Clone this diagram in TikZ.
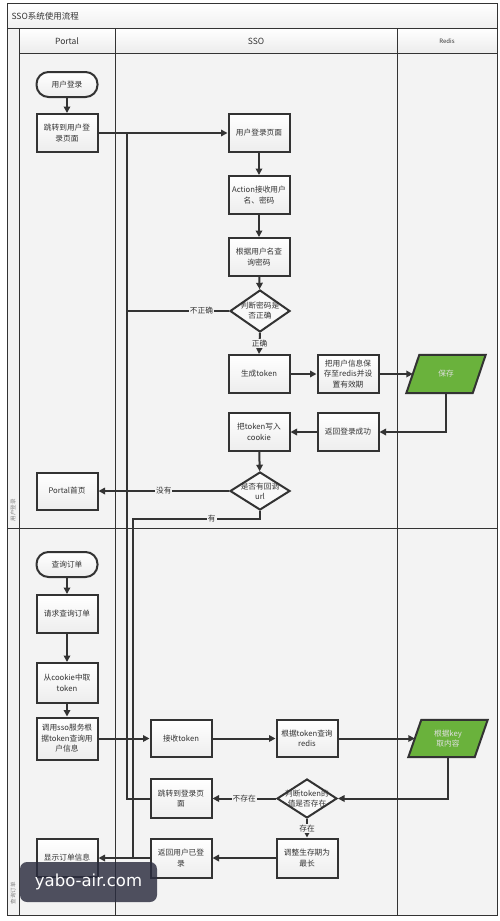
\documentclass[tikz,border=0pt]{standalone}
\usepackage{fontspec}
\setmainfont{Noto Sans CJK SC}
\newfontfamily\wmfont{DejaVu Sans}
\usetikzlibrary{arrows.meta,shapes.geometric,calc}
\definecolor{ln}{HTML}{333333}
\definecolor{grn}{HTML}{6AB23C}
\definecolor{bgc}{HTML}{F3F3F3}
\definecolor{wmc}{HTML}{2A2C3E}
\tikzset{
  box/.style={draw=ln, line width=2pt, top color=white, bottom color=gray!14,
    minimum width=61pt, minimum height=38pt, align=center,
    font=\fontsize{7.7}{10.5}\selectfont, text=ln, inner sep=1pt},
  startn/.style={box, rounded corners=12pt, minimum height=25pt},
  dia/.style={draw=ln, line width=2pt, diamond, fill=gray!5, minimum width=60pt,
    minimum height=42pt, inner sep=0pt},
  dtext/.style={align=center, font=\fontsize{7.7}{10}\selectfont, text=ln, inner sep=0pt},
  pg/.style={minimum width=66pt, minimum height=38pt, inner sep=0pt, align=center,
    font=\fontsize{7.7}{10.5}\selectfont, text=white!88!black},
  arr/.style={draw=ln, line width=2pt, -{Triangle[length=6.5pt,width=6.5pt]}},
  con/.style={draw=ln, line width=2pt},
  lbl/.style={fill=bgc, inner sep=1pt, font=\fontsize{7.7}{9}\selectfont, text=ln},
  frame/.style={draw=ln, line width=0.8pt},
  hdr/.style={font=\fontsize{8.5}{10}\selectfont, text=ln},
  lanelbl/.style={rotate=90, font=\fontsize{5.5}{6}\selectfont, text=gray}
}
\begin{document}
\begin{tikzpicture}[x=1pt,y=-1pt]
\useasboundingbox (0,0) rectangle (500,921);
\fill[white] (0,0) rectangle (500,921);
% frame and background
\fill[bgc] (7,3) rectangle (497,915);
\shade[top color=white,bottom color=gray!12] (7,3) rectangle (497,28);
\shade[top color=white,bottom color=gray!15] (19,28) rectangle (497,53);
\draw[frame] (7,3) rectangle (497,915);
\draw[frame] (7,28) -- (497,28);
\draw[frame] (19,53) -- (497,53);
\draw[frame] (19,28) -- (19,915);
\draw[frame] (115,28) -- (115,915);
\draw[frame] (397,28) -- (397,915);
\draw[frame] (7,528) -- (497,528);
\node[anchor=west, font=\fontsize{8.5}{10}\selectfont, text=ln] (title) at (8,16) {SSO系统使用流程};
\node[hdr] (hP) at (67,41) {Portal};
\node[hdr] (hS) at (256,41) {SSO};
\node[hdr, font=\fontsize{6}{7}\selectfont] (hR) at (447,41) {Redis};
\node[lanelbl] (lane1) at (13,510) {用户登录};
\node[lanelbl] (lane2) at (13,893) {查询订单};

% lane 1 nodes
\node[startn] (s1) at (67,84.5) {用户登录};
\node[box] (j1) at (67,133) {跳转到用户登\\录页面};
\node[box] (lp) at (259,133) {用户登录页面};
\node[box] (ac) at (259,195) {Action接收用户\\名、密码};
\node[box] (qp) at (259,257) {根据用户名查\\询密码};
\node[dia] (d1) at (260,311) {};
\node[dtext] (d1t) at (d1) {判断密码是\\否正确};
\node[box] (gt) at (259,374) {生成token};
\node[box] (sr) at (348,374) {把用户信息保\\存至redis并设\\置有效期};
\node[pg] (sv) at (446,374) {};
\draw[draw=ln, line width=2pt, fill=grn]
  ($(sv.north west)+(6.5,0)$) -- ($(sv.north east)+(6.5,0)$) --
  ($(sv.south east)+(-6.5,0)$) -- ($(sv.south west)+(-6.5,0)$) -- cycle;
\node[pg] (svt) at (sv) {保存};
\node[box] (ro) at (348,432) {返回登录成功};
\node[box] (ck) at (259,432) {把token写入\\cookie};
\node[dia, minimum height=38pt] (d2) at (260,491) {};
\node[dtext] (d2t) at (d2) {是否有回调\\url};
\node[box, minimum height=37pt] (ph) at (67,491) {Portal首页};

% lane 2 nodes
\node[startn] (s2) at (67,564.5) {查询订单};
\node[box] (rq) at (67,614) {请求查询订单};
\node[box, minimum height=40pt] (ct) at (67,683) {从cookie中取\\token};
\node[box, minimum height=42pt] (cs) at (67,738.5) {调用sso服务根\\据token查询用\\户信息};
\node[box, minimum height=37pt] (rt) at (181,738.5) {接收token};
\node[box, minimum height=37pt] (qr) at (307,738.5) {根据token查询\\redis};
\node[pg, minimum height=37pt] (gk) at (448,738.5) {};
\draw[draw=ln, line width=2pt, fill=grn]
  ($(gk.north west)+(6.5,0)$) -- ($(gk.north east)+(6.5,0)$) --
  ($(gk.south east)+(-6.5,0)$) -- ($(gk.south west)+(-6.5,0)$) -- cycle;
\node[pg] (gkt) at (gk) {根据key\\取内容};
\node[dia, minimum height=39pt] (d3) at (307,798.5) {};
\node[dtext] (d3t) at (d3) {判断token的\\值是否存在};
\node[box, minimum height=39pt] (jl) at (181,798.5) {跳转到登录页\\面};
\node[box, minimum height=39pt] (ad) at (307,858) {调整生存期为\\最长};
\node[box, minimum height=39pt] (rl) at (181,858) {返回用户已登\\录};
\node[box, minimum height=38pt] (sh) at (67,858) {显示订单信息};

% helper coordinates
\coordinate (vA) at (127,133);
\coordinate (vB) at (133,519);

% lane 1 connectors
\draw[arr] (s1) -- (j1);
\draw[arr] (j1) -- (lp);
\draw[arr] (lp) -- (ac);
\draw[arr] (ac) -- (qp);
\draw[arr] (qp) -- (d1);
\draw[con] (d1.west) -- node[lbl,pos=0.27]{不正确} (d1.west -| vA) -- (vA);
\draw[arr] (d1.south) -- node[lbl]{正确} (gt.north);
\draw[arr] (gt) -- (sr);
\draw[arr] (sr) -- (sv.west);
\draw[arr] (sv.south) |- (ro.east);
\draw[arr] (ro) -- (ck);
\draw[arr] (ck) -- (d2);
\draw[arr] (d2.west) -- node[lbl]{没有} (ph.east);
\draw[con] (d2.south) |- node[lbl,pos=0.69]{有} (vB) -- (vB |- sh.east);

% lane 2 connectors
\draw[arr] (s2) -- (rq);
\draw[arr] (rq) -- (ct);
\draw[arr] (ct) -- (cs);
\draw[arr] (cs) -- (rt);
\draw[arr] (rt) -- (qr);
\draw[arr] (qr) -- (gk.west);
\draw[arr] (gk.south) |- (d3.east);
\draw[arr] (d3.west) -- node[lbl]{不存在} (jl.east);
\draw[con] (jl.west) -| (vA);
\draw[arr] (d3.south) -- node[lbl]{存在} (ad.north);
\draw[arr] (ad) -- (rl);
\draw[arr] (rl) -- (sh);

% watermark
\node[fill=wmc, fill opacity=0.82, text opacity=1, rounded corners=7pt,
  minimum width=137pt, minimum height=40pt, text=white, inner sep=0pt,
  font=\wmfont\fontsize{16.5}{17}\selectfont] (wm) at (88.5,882) {yabo-air.com};
\end{tikzpicture}
\end{document}
